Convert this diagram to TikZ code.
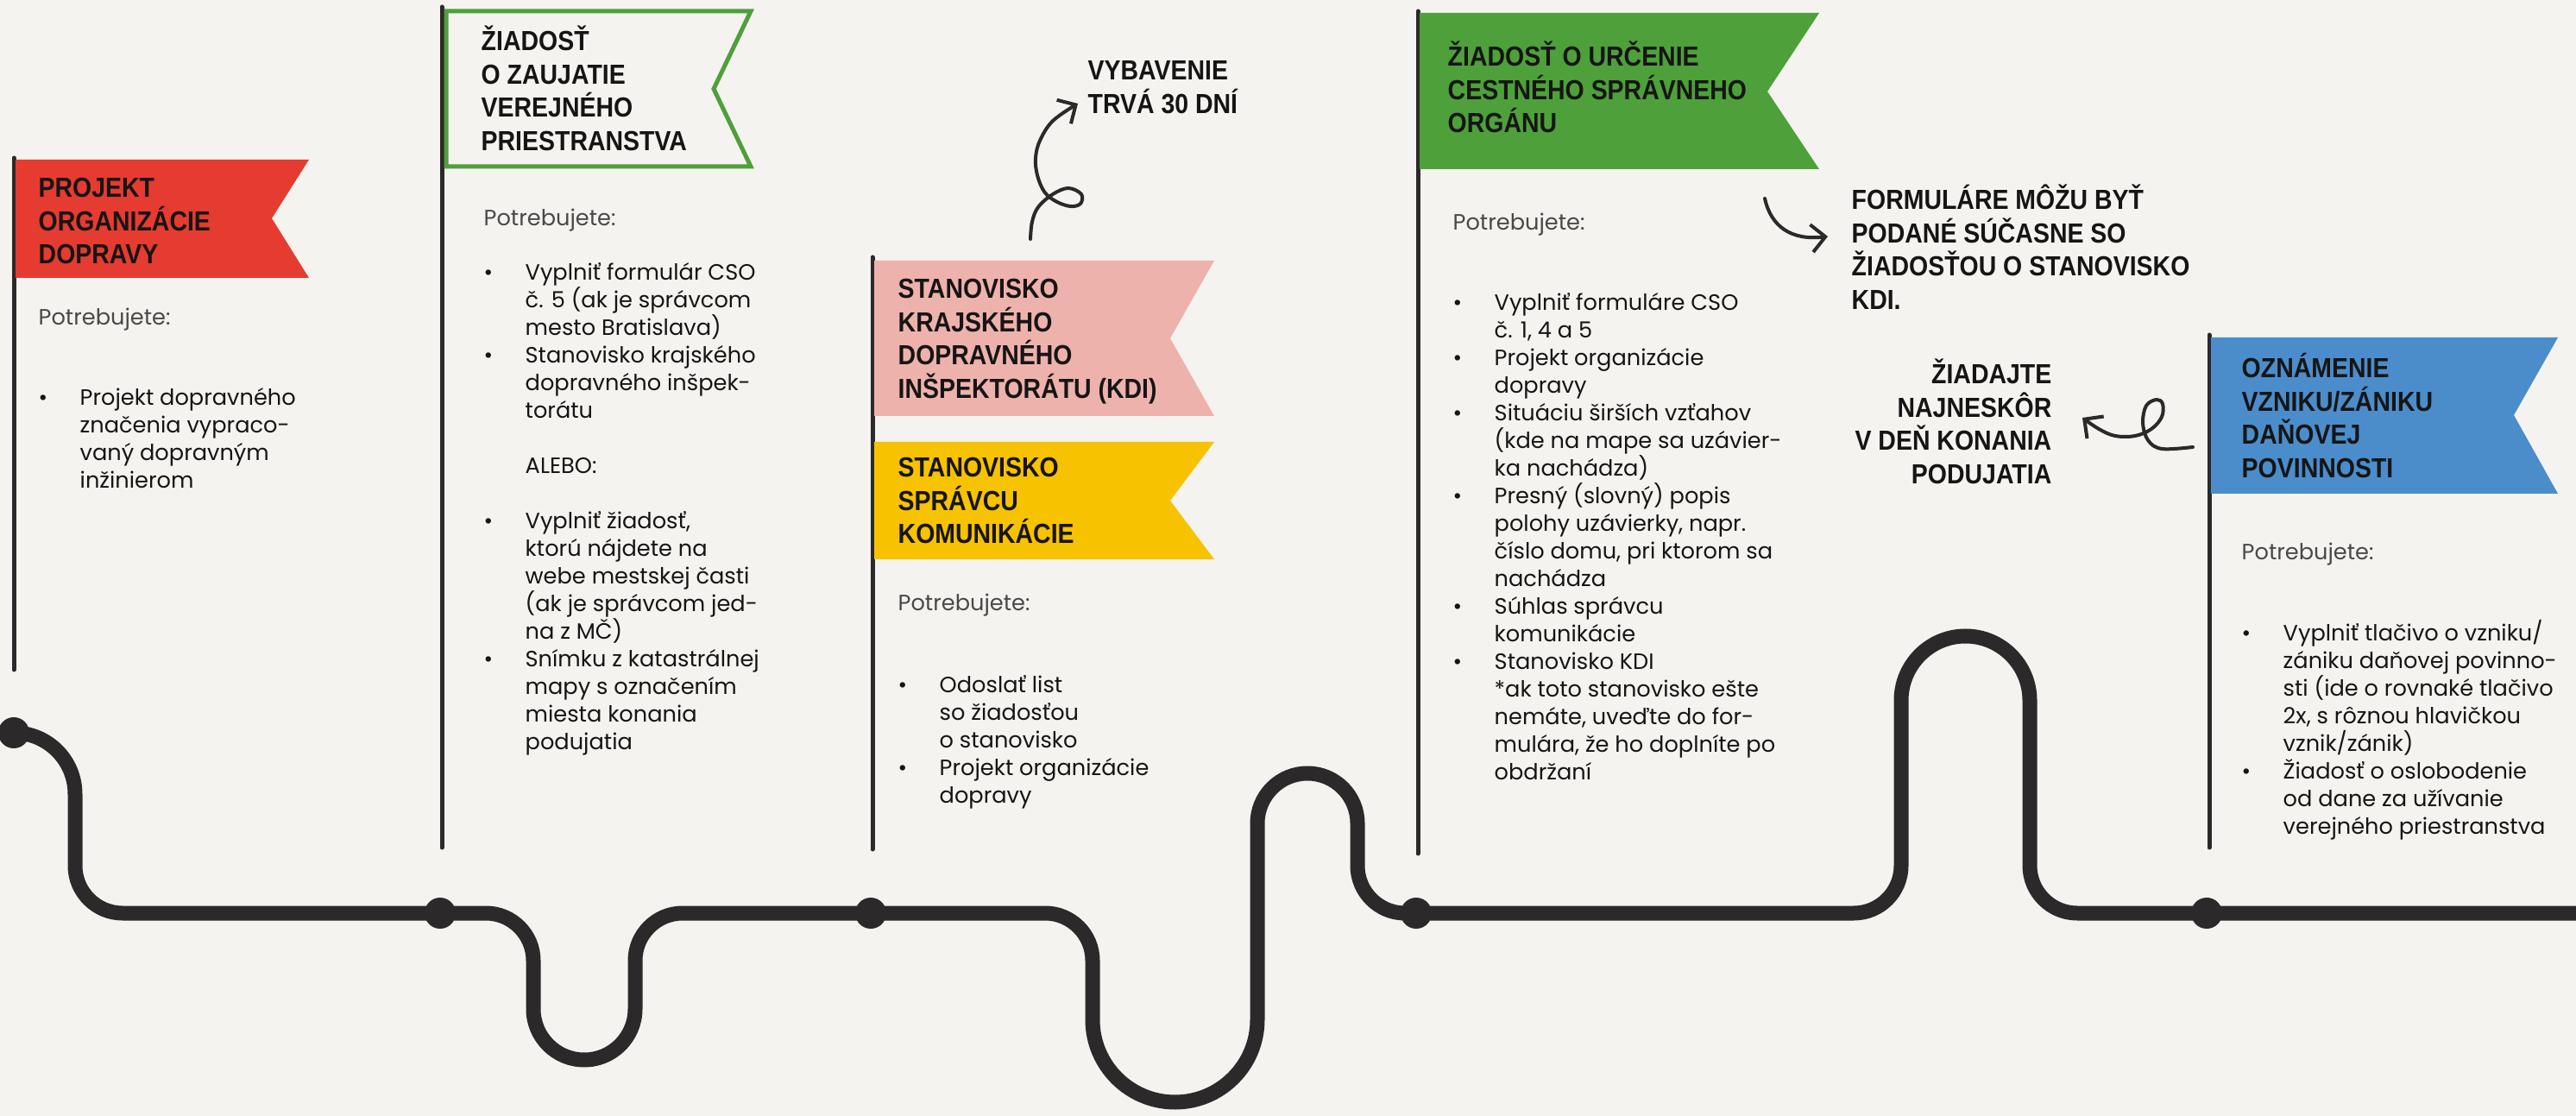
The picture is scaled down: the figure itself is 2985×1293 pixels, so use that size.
\documentclass[tikz,border=0pt]{standalone}
\usepackage{fontspec}
\setmainfont{Poppins}
\newfontfamily\headfont[FakeStretch=0.89]{Liberation Sans}
\usetikzlibrary{arrows.meta}

\definecolor{paper}{HTML}{F4F3EF}
\definecolor{ink}{HTML}{161515}
\definecolor{road}{HTML}{2B2929}
\definecolor{note}{HTML}{4A4848}
\definecolor{flagred}{HTML}{E53B30}
\definecolor{flaggreen}{HTML}{4EA03A}
\definecolor{flagpink}{HTML}{EEB2AC}
\definecolor{flagyellow}{HTML}{F7C200}
\definecolor{flagblue}{HTML}{4B8DCB}

\newcommand{\bul}{\makebox[4.8mm][l]{\textbullet}}
\newcommand{\ind}{\hspace*{4.8mm}}
\newcommand{\lft}[1]{\parbox[t]{45mm}{\raggedright #1}}
\newcommand{\rgt}[1]{\parbox[t]{45mm}{\raggedleft #1}}

\tikzset{
  head/.style={anchor=base west, inner sep=0pt, text=ink,
    font=\headfont\bfseries\fontsize{9.1}{10.95}\selectfont},
  body/.style={anchor=base west, inner sep=0pt, text=ink,
    font=\fontsize{7.3}{9.1}\selectfont},
  need/.style={body, text=note},
  pole/.style={draw=road, line width=0.5mm, line cap=round},
  stop/.style={circle, fill=road, inner sep=0pt, minimum size=3.6mm},
  roadline/.style={draw=road, line width=1.7mm},
  curl/.style={draw=road, line width=0.4mm, line cap=round, line join=round,
    -{Straight Barb[length=1.6mm,width=3.2mm]}},
}

\begin{document}
\begin{tikzpicture}[x=0.1mm,y=-0.1mm]
 \useasboundingbox (0,0) rectangle (2985,1293);
 \fill[paper] (0,0) rectangle (2985,1293);

 % the road
 \coordinate (s1) at (16,849);
 \draw[roadline] (s1) arc[start angle=-90,end angle=0,radius=71]
   -- (87,1003) arc[start angle=180,end angle=90,radius=55]
   -- (563,1058) arc[start angle=-90,end angle=0,radius=55]
   -- (618,1169) arc[start angle=180,end angle=0,radius=59]
   -- (736,1113) arc[start angle=180,end angle=270,radius=55]
   -- (1211,1058) arc[start angle=-90,end angle=0,radius=55]
   -- (1266,1181.5) arc[start angle=180,end angle=0,radius=95.5]
   -- (1457,954) arc[start angle=180,end angle=360,radius=58]
   -- (1573,1003) arc[start angle=180,end angle=90,radius=55]
   -- (2148,1058) arc[start angle=90,end angle=0,radius=55]
   -- (2203,811.5) arc[start angle=180,end angle=360,radius=74.5]
   -- (2352,1003) arc[start angle=180,end angle=90,radius=55]
   -- (3000,1058);
 \node[stop] (stop1) at (s1) {};
 \node[stop] (stop2) at (510,1058) {};
 \node[stop] (stop3) at (1009,1058) {};
 \node[stop] (stop4) at (1641,1058) {};
 \node[stop] (stop5) at (2557,1058) {};

 % poles
 \draw[pole] (16,183) -- (16,776);
 \draw[pole] (512,8) -- (512,982);
 \draw[pole] (1011,298) -- (1011,984);
 \draw[pole] (1643,13) -- (1643,989);
 \draw[pole] (2560,388) -- (2560,982);

 % flags
 \fill[flagred] (18,185) -- (358,185) -- (315,253) -- (358,322) -- (18,322) -- cycle;
 \draw[flaggreen, fill=paper, line width=0.5mm] (517,13) -- (870,13) -- (827,103) -- (870,193) -- (517,193) -- cycle;
 \fill[flagpink] (1013,302) -- (1407,302) -- (1356,392) -- (1407,482) -- (1013,482) -- cycle;
 \fill[flagyellow] (1013,512) -- (1407,512) -- (1356,580) -- (1407,648) -- (1013,648) -- cycle;
 \fill[flaggreen] (1645,15) -- (2108,15) -- (2048,106) -- (2108,196) -- (1645,196) -- cycle;
 \fill[flagblue] (2562,391) -- (2964,391) -- (2913,481) -- (2964,572) -- (2562,572) -- cycle;

 % 1
 \node[head] (projHead) at (44,229) {\lft{PROJEKT\\ORGANIZÁCIE\\DOPRAVY}};
 \node[need] (projNeed) at (44,377) {Potrebujete:};
 \node[body] (projList) at (44,470) {\lft{\bul Projekt dopravného\\\ind značenia vypraco-\\\ind vaný dopravným\\\ind inžinierom}};

 % 2
 \node[head] (zaujHead) at (557,59) {\lft{ŽIADOSŤ\\O ZAUJATIE\\VEREJNÉHO\\PRIESTRANSTVA}};
 \node[need] (zaujNeed) at (560,262) {Potrebujete:};
 \node[body] (zaujList) at (560,325) {\lft{\bul Vyplniť formulár CSO\\\ind č. 5 (ak je správcom\\\ind mesto Bratislava)\\\bul Stanovisko krajského\\\ind dopravného inšpek-\\\ind torátu\\\mbox{}\\\ind ALEBO:\\\mbox{}\\\bul Vyplniť žiadosť,\\\ind ktorú nájdete na\\\ind webe mestskej časti\\\ind (ak je správcom jed-\\\ind na z MČ)\\\bul Snímku z katastrálnej\\\ind mapy s označením\\\ind miesta konania\\\ind podujatia}};

 % 3
 \node[head] (kdiHead) at (1040,346) {\lft{STANOVISKO\\KRAJSKÉHO\\DOPRAVNÉHO\\INŠPEKTORÁTU (KDI)}};
 \node[head] (sprHead) at (1040,553) {\lft{STANOVISKO\\SPRÁVCU\\KOMUNIKÁCIE}};
 \node[need] (sprNeed) at (1040,708) {Potrebujete:};
 \node[body] (sprList) at (1040,803) {\lft{\bul Odoslať list\\\ind so žiadosťou\\\ind o stanovisko\\\bul Projekt organizácie\\\ind dopravy}};
 \node[head] (lehota) at (1260,93) {\lft{VYBAVENIE\\TRVÁ 30 DNÍ}};
 \coordinate (kdiTail) at (1194,277);
 \coordinate (kdiTip) at (1249,120);
 \draw[curl] plot[smooth, tension=0.6] coordinates {(kdiTail) (1196,257) (1203,240) (1220,225) (1238,218) (1253,225) (1252,236) (1240,239) (1223,233) (1210,222) (1202,203) (1200,183) (1205,163) (1220,140) (kdiTip)};

 % 4
 \node[head] (cestHead) at (1677,77) {\lft{ŽIADOSŤ O URČENIE\\CESTNÉHO SPRÁVNEHO\\ORGÁNU}};
 \node[need] (cestNeed) at (1683,267) {Potrebujete:};
 \node[body] (cestList) at (1683,360) {\lft{\bul Vyplniť formuláre CSO\\\ind č. 1, 4 a 5\\\bul Projekt organizácie\\\ind dopravy\\\bul Situáciu širších vzťahov\\\ind (kde na mape sa uzávier-\\\ind ka nachádza)\\\bul Presný (slovný) popis\\\ind polohy uzávierky, napr.\\\ind číslo domu, pri ktorom sa\\\ind nachádza\\\bul Súhlas správcu\\\ind komunikácie\\\bul Stanovisko KDI\\\ind *ak toto stanovisko ešte\\\ind nemáte, uveďte do for-\\\ind mulára, že ho doplníte po\\\ind obdržaní}};
 \node[head] (spolu) at (2145,243) {\lft{FORMULÁRE MÔŽU BYŤ\\PODANÉ SÚČASNE SO\\ŽIADOSŤOU O STANOVISKO\\KDI.}};
 \coordinate (cestTail) at (2045,230);
 \coordinate (cestTip) at (2118,274);
 \draw[curl] (cestTail) .. controls (2052,262) and (2075,279) .. (cestTip);

 % 5
 \node[head] (danHead) at (2597,438) {\lft{OZNÁMENIE\\VZNIKU/ZÁNIKU\\DAŇOVEJ\\POVINNOSTI}};
 \node[need] (danNeed) at (2597,649) {Potrebujete:};
 \node[body] (danList) at (2597,743) {\lft{\bul Vyplniť tlačivo o vzniku/\\\ind zániku daňovej povinno-\\\ind sti (ide o rovnaké tlačivo\\\ind 2x, s rôznou hlavičkou\\\ind vznik/zánik)\\\bul Žiadosť o oslobodenie\\\ind od dane za užívanie\\\ind verejného priestranstva}};
 \node[head, anchor=base east] (termin) at (2378,445) {\rgt{ŽIADAJTE\\NAJNESKÔR\\V DEŇ KONANIA\\PODUJATIA}};
 \coordinate (danTail) at (2541,518);
 \coordinate (danTip) at (2413,484);
 \draw[curl] plot[smooth, tension=0.6] coordinates {(danTail) (2505,520) (2489,510) (2483,490) (2487,470) (2499,463) (2506,468) (2505,483) (2493,497) (2474,505) (2451,505) (2432,497) (danTip)};
\end{tikzpicture}
\end{document}
